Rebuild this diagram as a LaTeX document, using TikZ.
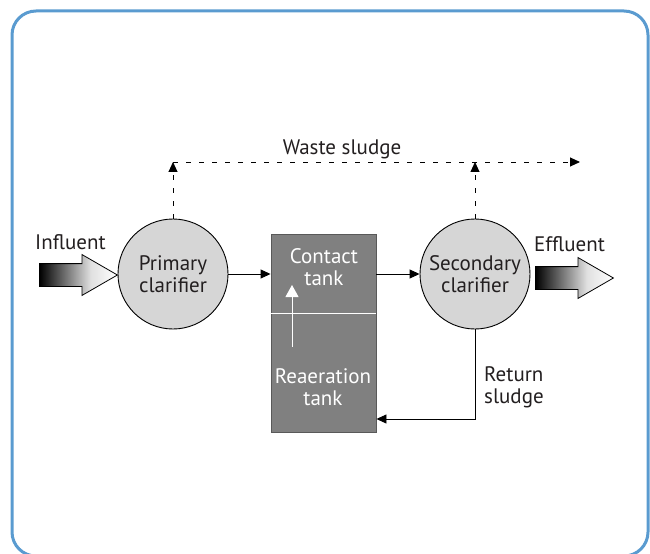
\documentclass[tikz,border=0pt]{standalone}
\usepackage{fontspec}
\setmainfont{PT Sans}
\usetikzlibrary{arrows.meta,shapes.arrows,positioning}
\definecolor{frameblue}{HTML}{5A9BD0}
\definecolor{clarfill}{HTML}{D6D6D6}
\definecolor{tankfill}{HTML}{808080}
\definecolor{inktext}{HTML}{231F20}
\pgfdeclarehorizontalshading{inflow}{100bp}{color(0bp)=(black); color(25bp)=(black); color(58bp)=(white!88!black); color(75bp)=(white); color(100bp)=(white)}
\tikzset{
  clarifier/.style={circle, draw, line width=0.9bp, fill=clarfill, minimum size=110bp, inner sep=0pt, align=center, text=inktext},
  tankbox/.style={draw=black!65, line width=0.9bp, fill=tankfill, minimum width=105bp, minimum height=198bp, inner sep=0pt},
  tanklabel/.style={align=center, text=white, inner sep=0pt},
  lbl/.style={text=inktext, inner sep=0pt},
  flow/.style={line width=0.9bp, -{Triangle[length=10bp,width=9bp]}},
  dashflow/.style={flow, dash pattern=on 5bp off 8bp},
  upflow/.style={white, line width=1bp, -{Triangle[length=12bp,width=13bp]}},
  bigarrow/.style={single arrow, draw, line width=0.8bp, shading=inflow,
    minimum height=78bp, minimum width=40bp, single arrow head extend=9bp,
    single arrow tip angle=60, inner xsep=0pt, inner ysep=11bp, anchor=tail}
}
\begin{document}
\begin{tikzpicture}[x=1bp, y=-1bp, font=\fontsize{21bp}{22bp}\selectfont]
  \useasboundingbox (0,0) rectangle (650,554);
  \draw[frameblue, line width=3bp, rounded corners=24bp] (12,11) rectangle (648,556);

  % clarifiers and tank
  \node[clarifier] (prim) at (173,274) {Primary\\clarifier};
  \node[clarifier] (sec) at (475,274) {Secondary\\clarifier};
  \node[tankbox] (tank) at (323.5,333) {};
  \coordinate (split) at (0,313);
  \draw[white, line width=1bp] (tank.west |- split) -- (tank.east |- split);
  \node[tanklabel] (contact) at (324,267) {Contact\\tank};
  \node[tanklabel] (reaer) at (323,387) {Reaeration\\tank};
  \coordinate (liftbot) at (292,347);
  \coordinate (lifttop) at (292,285);
  \draw[upflow] (liftbot) -- (lifttop);

  % in and out
  \node[bigarrow] (infl) at (39,275) {};
  \node[bigarrow] (effl) at (535,278) {};
  \node[lbl, anchor=base west] (infltxt) at (35,250) {Influent};
  \node[lbl, anchor=base west] (effltxt) at (534,252) {Effluent};

  % main flow
  \draw[flow] (prim.east) -- (prim.east -| tank.west);
  \draw[flow] (tank.east |- sec.west) -- (sec.west);
  \coordinate (ret) at (475,419);
  \draw[flow] (sec.south) -- (ret) -- (ret -| tank.east);
  \node[lbl, align=left, anchor=west] (rettxt) at (484,387) {Return\\sludge};

  % waste sludge
  \coordinate (wasteend) at (580,162);
  \draw[dashflow] (prim.north) -- (prim.north |- wasteend);
  \draw[dashflow] (sec.north) -- (sec.north |- wasteend);
  \draw[dashflow] (prim.north |- wasteend) -- (wasteend);
  \node[lbl, anchor=base] (wastetxt) at (342,155) {Waste sludge};
\end{tikzpicture}
\end{document}
